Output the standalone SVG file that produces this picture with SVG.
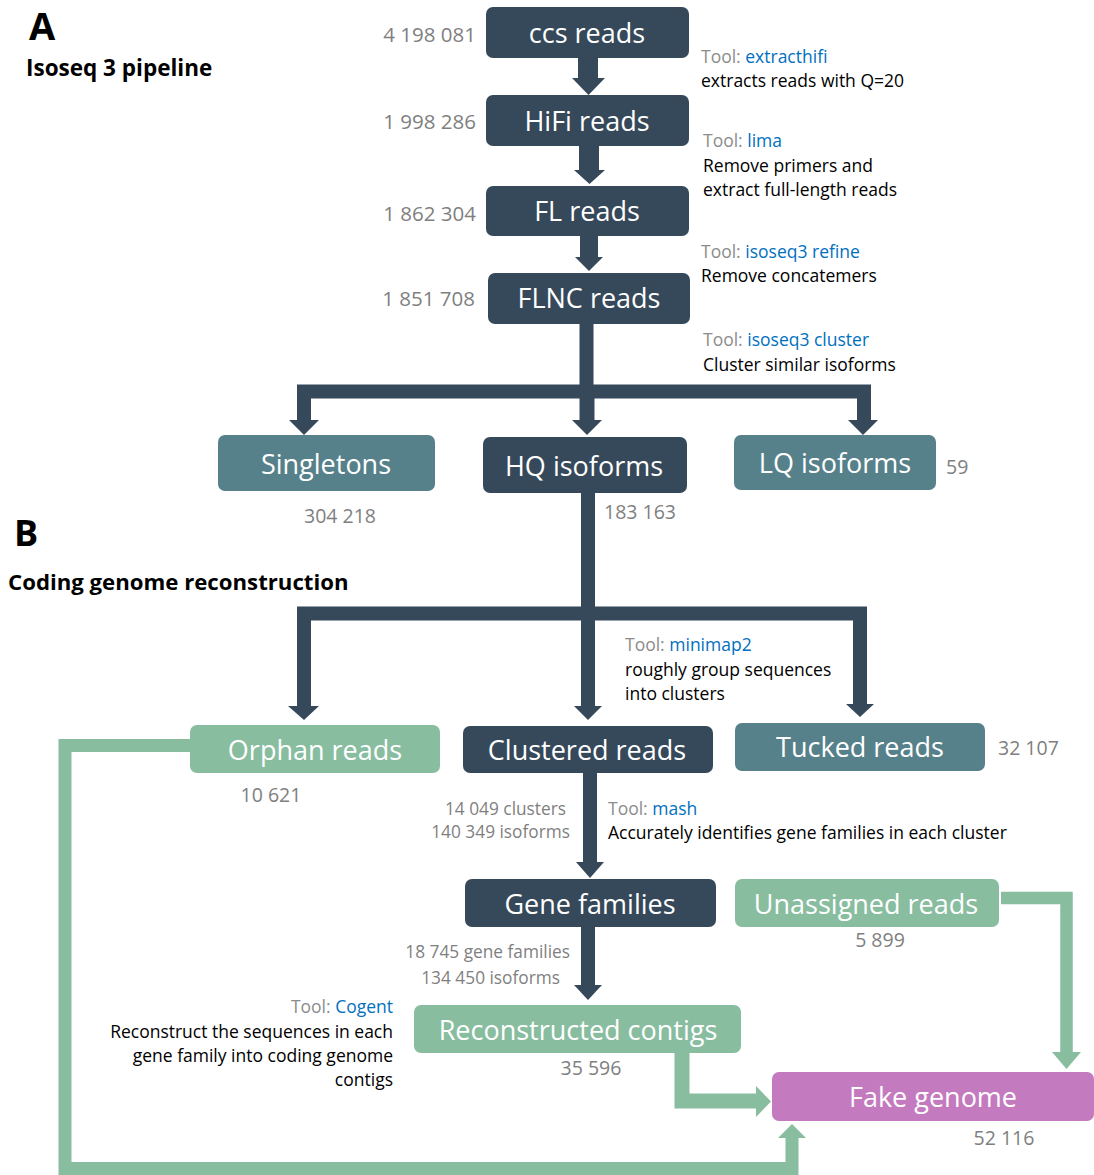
<svg xmlns="http://www.w3.org/2000/svg" width="1094" height="1175" viewBox="0 0 1094 1175">
  <style>
    text { font-family: "Open Sans", "Noto Sans", "DejaVu Sans", sans-serif; }
    .box-dark { fill: #36495a; }
    .box-teal { fill: #56818a; }
    .box-green { fill: #88bda0; }
    .box-pink { fill: #c47abf; }
    .lbl { fill: #ffffff; font-size: 27px; text-anchor: middle; }
    .num { fill: #7f7f7f; font-size: 19.5px; }
    .num-t { fill: #7f7f7f; font-size: 20.5px; text-anchor: end; }
    .num-s { fill: #7f7f7f; font-size: 17.3px; text-anchor: end; }
    .tool { fill: #000000; font-size: 17.5px; }
    .gray { fill: #8c8c8c; }
    .blue { fill: #0070c0; }
    .head { font-weight: bold; fill: #000000; }
    .dk { fill: #36495a; }
    .dk-line { stroke: #36495a; fill: none; stroke-linejoin: miter; }
    .gr { fill: #88bda0; }
    .gr-line { stroke: #88bda0; fill: none; stroke-linejoin: miter; }
  </style>

  <!-- section headings -->
  <text class="head" x="29" y="40" font-size="38">A</text>
  <text class="head" x="26" y="76" font-size="22.5">Isoseq 3 pipeline</text>
  <text class="head" x="14" y="546" font-size="36">B</text>
  <text class="head" x="8" y="590" font-size="22.2">Coding genome reconstruction</text>

  <!-- connectors -->
  <g id="connectors">
    <!-- ccs -> HiFi -->
    <path class="dk-line" d="M588 58 V80" stroke-width="20"/>
    <polygon class="dk" points="572,78 605,78 588.5,95"/>
    <!-- HiFi -> FL -->
    <path class="dk-line" d="M589 146 V172" stroke-width="20"/>
    <polygon class="dk" points="574,170 605,170 589.5,184"/>
    <!-- FL -> FLNC -->
    <path class="dk-line" d="M589 236 V259" stroke-width="18"/>
    <polygon class="dk" points="575,257 603,257 589,271"/>
    <!-- FLNC -> singletons / HQ / LQ -->
    <path class="dk-line" d="M586.5 324 V391.5 M304 422 V391.5 H864 V422" stroke-width="14"/>
    <path class="dk-line" d="M587 391.5 V422" stroke-width="15"/>
    <polygon class="dk" points="289,420 319,420 304,435"/>
    <polygon class="dk" points="572,420 602,420 587,435"/>
    <polygon class="dk" points="848,420 878,420 863,435"/>
    <!-- HQ -> orphan / clustered / tucked -->
    <path class="dk-line" d="M588 493 V708 M304 708 V613.5 H860 V708" stroke-width="14"/>
    <polygon class="dk" points="288,706 319,706 304,720"/>
    <polygon class="dk" points="574,706 602,706 588,720"/>
    <polygon class="dk" points="846,704 874,704 860,717"/>
    <!-- clustered -> gene families -->
    <path class="dk-line" d="M590 773 V864" stroke-width="14"/>
    <polygon class="dk" points="576,862 604,862 590,878"/>
    <!-- gene families -> reconstructed contigs -->
    <path class="dk-line" d="M588 927 V987" stroke-width="14"/>
    <polygon class="dk" points="574,985 602,985 588,1000"/>
    <!-- orphan reads -> fake genome -->
    <path class="gr-line" d="M190 745.5 H65 V1168.5 H792 V1136" stroke-width="13"/>
    <polygon class="gr" points="778,1138 806,1138 792,1124"/>
    <!-- reconstructed contigs -> fake genome -->
    <path class="gr-line" d="M682 1053 V1101 H758" stroke-width="15"/>
    <polygon class="gr" points="756,1086 756,1117 771,1101.5"/>
    <!-- unassigned reads -> fake genome -->
    <path class="gr-line" d="M1001 898 H1066.5 V1054" stroke-width="12.5"/>
    <polygon class="gr" points="1052,1052 1081,1052 1066.5,1069"/>
  </g>

  <!-- Isoseq 3 pipeline nodes -->
  <g id="node-ccs">
    <rect class="box-dark" x="486" y="7" width="203" height="51" rx="7"/>
    <text class="lbl" x="587" y="43" font-size="26">ccs reads</text>
    <text class="num-t" x="476" y="42">4 198 081</text>
  </g>
  <g id="node-hifi">
    <rect class="box-dark" x="486" y="95" width="203" height="51" rx="7"/>
    <text class="lbl" x="587" y="131" font-size="26">HiFi reads</text>
    <text class="num-t" x="476" y="129">1 998 286</text>
  </g>
  <g id="node-fl">
    <rect class="box-dark" x="486" y="186" width="203" height="50" rx="7"/>
    <text class="lbl" x="587" y="221" font-size="26">FL reads</text>
    <text class="num-t" x="476" y="221">1 862 304</text>
  </g>
  <g id="node-flnc">
    <rect class="box-dark" x="488" y="273" width="202" height="51" rx="7"/>
    <text class="lbl" x="589" y="308" font-size="26">FLNC reads</text>
    <text class="num-t" x="475" y="306">1 851 708</text>
  </g>
  <g id="node-singletons">
    <rect class="box-teal" x="218" y="435" width="217" height="56" rx="7"/>
    <text class="lbl" x="326" y="474">Singletons</text>
    <text class="num" x="340" y="523" text-anchor="middle">304 218</text>
  </g>
  <g id="node-hq">
    <rect class="box-dark" x="483" y="437" width="204" height="56" rx="7"/>
    <text class="lbl" x="584" y="476">HQ isoforms</text>
    <text class="num" x="604" y="519">183 163</text>
  </g>
  <g id="node-lq">
    <rect class="box-teal" x="734" y="435" width="202" height="55" rx="7"/>
    <text class="lbl" x="835" y="473">LQ isoforms</text>
    <text class="num" x="946" y="474">59</text>
  </g>

  <!-- tool annotations, pipeline -->
  <g id="tool-extracthifi" class="tool">
    <text x="701" y="63"><tspan class="gray">Tool: </tspan><tspan class="blue">extracthifi</tspan></text>
    <text x="701" y="87">extracts reads with Q=20</text>
  </g>
  <g id="tool-lima" class="tool">
    <text x="703" y="147"><tspan class="gray">Tool: </tspan><tspan class="blue">lima</tspan></text>
    <text x="703" y="172">Remove primers and</text>
    <text x="703" y="196">extract full-length reads</text>
  </g>
  <g id="tool-refine" class="tool">
    <text x="701" y="258"><tspan class="gray">Tool: </tspan><tspan class="blue">isoseq3 refine</tspan></text>
    <text x="701" y="282">Remove concatemers</text>
  </g>
  <g id="tool-cluster" class="tool">
    <text x="703" y="346"><tspan class="gray">Tool: </tspan><tspan class="blue">isoseq3 cluster</tspan></text>
    <text x="703" y="371">Cluster similar isoforms</text>
  </g>

  <!-- coding genome reconstruction nodes -->
  <g id="node-orphan">
    <rect class="box-green" x="190" y="725" width="250" height="48" rx="7"/>
    <text class="lbl" x="315" y="760">Orphan reads</text>
    <text class="num" x="271" y="802" text-anchor="middle">10 621</text>
  </g>
  <g id="node-clustered">
    <rect class="box-dark" x="463" y="726" width="250" height="47" rx="7"/>
    <text class="lbl" x="587" y="760">Clustered reads</text>
  </g>
  <g id="node-tucked">
    <rect class="box-teal" x="735" y="723" width="250" height="48" rx="7"/>
    <text class="lbl" x="860" y="757">Tucked reads</text>
    <text class="num" x="998" y="755">32 107</text>
  </g>
  <g id="tool-minimap2" class="tool">
    <text x="625" y="651"><tspan class="gray">Tool: </tspan><tspan class="blue">minimap2</tspan></text>
    <text x="625" y="676">roughly group sequences</text>
    <text x="625" y="700">into clusters</text>
  </g>
  <g id="counts-clustered">
    <text class="num-s" x="566" y="815">14 049 clusters</text>
    <text class="num-s" x="570" y="838">140 349 isoforms</text>
  </g>
  <g id="tool-mash" class="tool">
    <text x="608" y="815"><tspan class="gray">Tool: </tspan><tspan class="blue">mash</tspan></text>
    <text x="608" y="839">Accurately identifies gene families in each cluster</text>
  </g>
  <g id="node-gene-families">
    <rect class="box-dark" x="465" y="879" width="251" height="48" rx="7"/>
    <text class="lbl" x="590" y="914">Gene families</text>
  </g>
  <g id="node-unassigned">
    <rect class="box-green" x="735" y="879" width="264" height="48" rx="7"/>
    <text class="lbl" x="866" y="914">Unassigned reads</text>
    <text class="num" x="880" y="947" text-anchor="middle">5 899</text>
  </g>
  <g id="counts-gene-families">
    <text class="num-s" x="570" y="958">18 745 gene families</text>
    <text class="num-s" x="560" y="984">134 450 isoforms</text>
  </g>
  <g id="tool-cogent" class="tool" text-anchor="end">
    <text x="393" y="1013"><tspan class="gray">Tool: </tspan><tspan class="blue">Cogent</tspan></text>
    <text x="393" y="1038">Reconstruct the sequences in each</text>
    <text x="393" y="1062">gene family into coding genome</text>
    <text x="393" y="1086">contigs</text>
  </g>
  <g id="node-reconstructed">
    <rect class="box-green" x="414" y="1005" width="327" height="48" rx="7"/>
    <text class="lbl" x="578" y="1040">Reconstructed contigs</text>
    <text class="num" x="591" y="1075" text-anchor="middle">35 596</text>
  </g>
  <g id="node-fake-genome">
    <rect class="box-pink" x="772" y="1072" width="322" height="49" rx="7"/>
    <text class="lbl" x="933" y="1107">Fake genome</text>
    <text class="num" x="1004" y="1145" text-anchor="middle">52 116</text>
  </g>
</svg>
